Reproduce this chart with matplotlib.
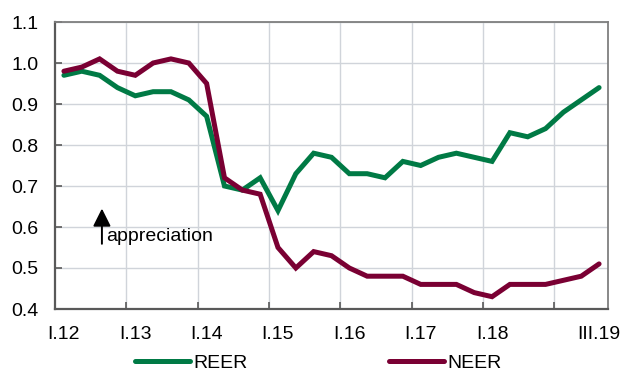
import matplotlib
matplotlib.use("Agg")
import matplotlib.pyplot as plt
import numpy as np

plt.rcParams['font.family'] = ['Liberation Sans', 'DejaVu Sans']

# Quarterly effective exchange rate indices, I.2012 - III.2019
reer = [0.97, 0.98, 0.97, 0.94, 0.92, 0.93, 0.93, 0.91, 0.87, 0.70,
        0.69, 0.72, 0.64, 0.73, 0.78, 0.77, 0.73, 0.73, 0.72, 0.76,
        0.75, 0.77, 0.78, 0.77, 0.76, 0.83, 0.82, 0.84, 0.88, 0.91, 0.94]
neer = [0.98, 0.99, 1.01, 0.98, 0.97, 1.00, 1.01, 1.00, 0.95, 0.72,
        0.69, 0.68, 0.55, 0.50, 0.54, 0.53, 0.50, 0.48, 0.48, 0.48,
        0.46, 0.46, 0.46, 0.44, 0.43, 0.46, 0.46, 0.46, 0.47, 0.48, 0.51]
tick_labels = ["I.12", "I.13", "I.14", "I.15", "I.16", "I.17", "I.18", "III.19"]
label_idx = [0, 4, 8, 12, 16, 20, 24, 30]

green = "#007A45"
maroon = "#7A0033"
FS = 14

fig = plt.figure(figsize=(6.24, 3.71), dpi=100)
ax = fig.add_axes([55/624, 1 - 309/371, (608-55)/624, (309-22)/371])

x = np.arange(len(reer))
ax.plot(x, reer, color=green, lw=3.6, solid_capstyle="round", solid_joinstyle="miter", label="REER", zorder=3)
ax.plot(x, neer, color=maroon, lw=3.6, solid_capstyle="round", solid_joinstyle="miter", label="NEER", zorder=3)

ax.set_xlim(-0.5, len(reer) - 0.5)
ax.set_ylim(0.4, 1.1)
yt = np.arange(0.4, 1.101, 0.1)
ax.set_yticks(yt)
ax.set_yticklabels([f"{v:.1f}" for v in yt])

# gridlines / tick marks between categories, labels at category centres
ax.set_xticks(np.arange(3.5, 30, 4))
ax.set_xticklabels([])
ax.set_xticks(label_idx, minor=True)
ax.set_xticklabels(tick_labels, minor=True)
ax.tick_params(axis="x", which="major", direction="in", length=5, width=1.2, color="#595959")
ax.tick_params(axis="x", which="minor", length=0, pad=12, labelsize=FS)
ax.tick_params(axis="y", direction="in", length=5, width=1.2, color="#595959", pad=12, labelsize=FS)
ax.grid(True, which="major", color="#D0D4DA", lw=1.0, zorder=0)

for s in ax.spines.values():
    s.set_color("#7F7F7F")
    s.set_linewidth(1.3)
ax.spines["left"].set_color("#595959")
ax.spines["bottom"].set_color("#595959")
ax.spines["left"].set_linewidth(1.6)
ax.spines["bottom"].set_linewidth(1.6)

# appreciation arrow
ax.annotate("", xy=(2.13, 0.645), xytext=(2.13, 0.559),
            arrowprops=dict(arrowstyle="-|>,head_length=0.6,head_width=0.3",
                            color="black", lw=1.4, mutation_scale=18, shrinkA=0, shrinkB=0))
ax.text(2.38, 0.578, "appreciation", fontsize=FS, va="center", ha="left")

fig.legend(loc="center left", bbox_to_anchor=(135/624, 1 - 363/371), ncol=2, frameon=False,
           fontsize=FS, handlelength=2.83, handletextpad=0.15, columnspacing=7.3,
           borderpad=0, borderaxespad=0)

fig.savefig("out.png", dpi=100)
